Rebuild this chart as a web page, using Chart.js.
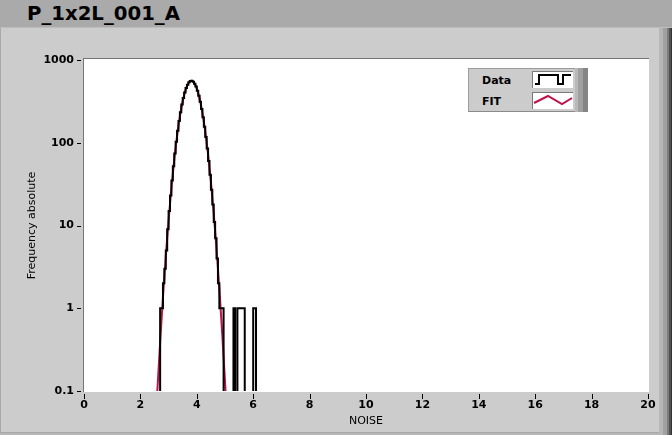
<!DOCTYPE html>
<html><head><meta charset="utf-8">
<script src="https://cdn.jsdelivr.net/npm/chart.js@4.4.1/dist/chart.umd.min.js"></script>
<style>
html,body{margin:0;padding:0;width:672px;height:435px;overflow:hidden;background:#cccccc;font-family:"DejaVu Sans",sans-serif;}
#titlebar{position:absolute;left:0;top:0;width:672px;height:27px;background:#aaaaaa;}
#title{position:absolute;left:27px;top:3px;font:bold 19.7px "DejaVu Sans";line-height:22px;color:#000;white-space:nowrap;}
#panel{position:absolute;left:0;top:27px;width:672px;height:408px;background:#cccccc;border-top:1px solid #bdbdbd;box-sizing:border-box;border-left:1px solid #a8a8a8;}
#rbar{position:absolute;left:659px;top:28px;width:13px;height:407px;background:linear-gradient(to right,#b6b6b6 0,#b6b6b6 4px,#a0a0a0 4px,#a0a0a0 8px,#7c7c7c 8px,#7c7c7c 10px,#505050 10px,#505050 12px,#333 12px);}
#bbar{position:absolute;left:0;top:432px;width:659px;height:3px;background:linear-gradient(to bottom,#a8a8a8 0,#a8a8a8 1px,#b6b6b6 1px);}
canvas{position:absolute;left:0;top:0;}
#legend{position:absolute;left:468px;top:68px;width:107px;height:44px;background:#cccccc;box-sizing:border-box;border-left:1px solid #9c9c9c;border-top:1px solid #9c9c9c;border-bottom:1px solid #8a8a8a;}
#legbars{position:absolute;left:575px;top:68px;width:13px;height:44px;background:linear-gradient(to right,#b8b8b8 0,#b8b8b8 3px,#a0a0a0 3px,#a0a0a0 8px,#858585 8px);}
.lt{position:absolute;left:13px;font:bold 11px "DejaVu Sans";line-height:14px;color:#000;}
.sw{position:absolute;left:63px;width:41px;height:17px;background:#fff;box-sizing:border-box;border-top:1px solid #7a7a7a;border-left:1px solid #7a7a7a;}
</style></head>
<body>
<div id="titlebar"><div id="title">P_1x2L_001_A</div></div>
<div id="panel"></div>
<div id="rbar"></div>
<div id="bbar"></div>
<canvas id="c" width="672" height="435"></canvas>
<div id="legend">
  <div class="lt" style="top:5px">Data</div>
  <div class="sw" style="top:2px"><svg width="40" height="16"><polyline points="2,12 6,12 6,3 25,3 25,12 30,12 30,3 38,3" fill="none" stroke="#000" stroke-width="2"/></svg></div>
  <div class="lt" style="top:26px">FIT</div>
  <div class="sw" style="top:23px"><svg width="40" height="16"><polyline points="1,10 15,3 29,11 39,5" fill="none" stroke="#c0124a" stroke-width="2"/></svg></div>
</div>
<div id="legbars"></div>
<script>
// Histogram (step line): bin left edges and counts
const dataEdges = [2.60, 2.70, 2.75, 2.80, 2.85, 2.90, 2.95, 3.00, 3.05, 3.10, 3.15, 3.20, 3.25, 3.30, 3.35, 3.40, 3.45, 3.50, 3.55, 3.60, 3.65, 3.70, 3.75, 3.80, 3.85, 3.90, 3.95, 4.00, 4.05, 4.10, 4.15, 4.20, 4.25, 4.30, 4.35, 4.40, 4.45, 4.50, 4.55, 4.60, 4.65, 4.70, 4.75, 4.80, 4.85, 4.90, 4.95, 5.30, 5.36, 5.44, 5.70, 6.00, 6.10];
const dataCounts = [0, 1, 1, 2, 3, 5, 9, 15, 23, 35, 52, 74, 103, 140, 183, 233, 289, 347, 404, 458, 503, 537, 556, 560, 546, 518, 477, 426, 370, 312, 255, 203, 156, 117, 85, 60, 41, 27, 18, 11, 7, 4, 2, 1, 1, 1, 0, 1, 0, 1, 0, 1, 0];
// Gaussian fit curve
const fitX = [2.5, 2.6, 2.7, 2.8, 2.9, 3.0, 3.1, 3.2, 3.3, 3.4, 3.5, 3.6, 3.7, 3.8, 3.9, 4.0, 4.1, 4.2, 4.3, 4.4, 4.5, 4.6, 4.7, 4.8, 4.9, 5.0, 5.1];
const fitY = [0.022, 0.099, 0.389, 1.36, 4.22, 11.6, 28.6, 62.2, 120.7, 207.7, 317.6, 431.8, 521.4, 560, 533.9, 452.5, 341, 228, 135.9, 71.7, 33.8, 14.1, 5.2, 1.72, 0.50, 0.131, 0.030];
// Axis ticks
const xTicks = [0, 2, 4, 6, 8, 10, 12, 14, 16, 18, 20];
const yTicks = [0.1, 1, 10, 100, 1000];
const yTickLabels = ['0.1', '1', '10', '100', '1000'];

const BELOW = 0.01; // zero counts drawn below the axis (clipped)
const histPts = dataEdges.map((x, i) => ({x: x, y: dataCounts[i] > 0 ? dataCounts[i] : BELOW}));
const fitPts = fitX.map((x, i) => ({x: x, y: fitY[i]}));

const frame = {
  id: 'frame',
  beforeDraw(chart) {
    const {ctx, chartArea: a} = chart;
    ctx.save();
    ctx.fillStyle = '#ffffff';
    ctx.fillRect(a.left, a.top - 1, a.right - a.left + 1, a.bottom - a.top + 2);
    ctx.fillStyle = '#767676';
    ctx.fillRect(a.left - 1, a.top - 2, a.right - a.left + 2, 1);
    ctx.fillRect(a.left - 1, a.top - 2, 1, a.bottom - a.top + 3);
    ctx.strokeStyle = '#000';
    ctx.lineWidth = 1;
    const ys = chart.scales.y;
    yTicks.forEach(v => {
      const py = Math.round(ys.getPixelForValue(v)) + 0.5;
      ctx.beginPath(); ctx.moveTo(a.left - 7, py); ctx.lineTo(a.left - 3, py); ctx.stroke();
    });
    const xs = chart.scales.x;
    xTicks.forEach(v => {
      const px = Math.round(xs.getPixelForValue(v)) + 0.5;
      ctx.beginPath(); ctx.moveTo(px, a.bottom + 3); ctx.lineTo(px, a.bottom + 8); ctx.stroke();
    });
    ctx.restore();
  }
};

Chart.defaults.color = '#000';
Chart.defaults.font.family = '"DejaVu Sans", sans-serif';

new Chart(document.getElementById('c'), {
  type: 'line',
  data: {
    datasets: [
      {label: 'Data', data: histPts, stepped: 'before', borderColor: '#000000', borderWidth: 2, pointRadius: 0, fill: false},
      {label: 'FIT', data: fitPts, borderColor: '#c0124a', borderWidth: 2, pointRadius: 0, fill: false, cubicInterpolationMode: 'monotone'}
    ]
  },
  options: {
    responsive: false,
    animation: false,
    devicePixelRatio: 1,
    layout: {padding: {top: 60, right: 24, left: 0, bottom: 0}},
    plugins: {legend: {display: false}, tooltip: {enabled: false}},
    scales: {
      x: {
        type: 'linear', min: 0, max: 20,
        afterBuildTicks: s => { s.ticks = xTicks.map(v => ({value: v})); },
        afterFit: s => { s.height = 44; },
        grid: {display: false, drawTicks: false},
        border: {display: false},
        ticks: {padding: 8, font: {size: 11, weight: 'bold'}, callback: v => String(v)},
        title: {display: true, text: 'NOISE', font: {size: 11}, padding: {top: 0, bottom: 7}}
      },
      y: {
        type: 'logarithmic', min: 0.1, max: 1000,
        afterBuildTicks: s => { s.ticks = yTicks.map(v => ({value: v})); },
        afterFit: s => { s.width = 84; },
        grid: {display: false, drawTicks: false},
        border: {display: false},
        ticks: {padding: 10, font: {size: 11, weight: 'bold'}, callback: v => { const i = yTicks.indexOf(v); return i >= 0 ? yTickLabels[i] : ''; }},
        title: {display: true, text: 'Frequency absolute', font: {size: 11}, padding: {top: 26, bottom: 0}}
      }
    }
  },
  plugins: [frame]
});
</script>
</body></html>
